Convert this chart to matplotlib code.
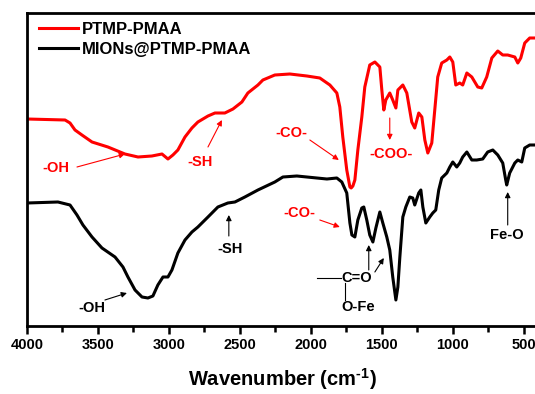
import matplotlib
matplotlib.use("Agg")
import matplotlib.pyplot as plt

plt.rcParams['font.family'] = ['Liberation Sans', 'DejaVu Sans']
plt.rcParams['font.weight'] = 'bold'
plt.rcParams['mathtext.fontset'] = 'custom'
plt.rcParams['mathtext.rm'] = 'Liberation Sans:bold'
plt.rcParams['mathtext.default'] = 'rm'

# FTIR spectra (wavenumber in cm-1, transmittance in arbitrary units)
wn_ptmp = [4000, 3732, 3697, 3662, 3613, 3542, 3430, 3310, 3218, 3120, 3049, 3007,
           2972, 2937, 2887, 2838, 2796, 2725, 2676, 2606, 2549, 2486, 2444, 2373,
           2338, 2254, 2148, 2028, 1937, 1866, 1817, 1796, 1775, 1747, 1725, 1716,
           1704, 1690, 1669, 1641, 1620, 1585, 1549, 1514, 1500, 1486, 1472, 1444,
           1423, 1401, 1387, 1352, 1324, 1289, 1268, 1240, 1218, 1197, 1176, 1148,
           1127, 1106, 1078, 1042, 1021, 1000, 979, 951, 930, 901, 866, 824, 796,
           761, 725, 683, 648, 613, 563, 542, 521, 493, 458, 423, 400]
t_ptmp = [207, 206, 203, 196, 191, 184, 179, 172, 169, 170, 172, 167,
          171, 176, 189, 198, 204, 210, 213, 213, 217, 224, 233, 241,
          246, 251, 252, 250, 248, 241, 233, 219, 189, 156, 139, 138,
          140, 146, 176, 209, 239, 261, 264, 259, 236, 216, 226, 233,
          226, 218, 236, 241, 233, 204, 198, 213, 209, 186, 173, 183,
          216, 249, 263, 266, 269, 264, 241, 243, 241, 253, 249, 239, 238,
          249, 268, 275, 271, 271, 269, 263, 268, 283, 288, 288, 288]

wn_mions = [4000, 3782, 3697, 3648, 3606, 3542, 3472, 3380, 3324, 3289, 3239, 3190,
            3148, 3113, 3078, 3042, 3007, 2979, 2937, 2887, 2838, 2796, 2725, 2655,
            2585, 2535, 2465, 2373, 2254, 2197, 2099, 1958, 1887, 1817, 1782, 1747,
            1725, 1711, 1690, 1669, 1641, 1627, 1606, 1585, 1563, 1542, 1514, 1493,
            1465, 1444, 1423, 1401, 1387, 1373, 1352, 1331, 1303, 1282, 1268, 1240,
            1225, 1211, 1190, 1162, 1141, 1120, 1099, 1078, 1042, 1021, 1000, 972,
            951, 930, 901, 866, 831, 789, 754, 718, 683, 648, 627, 620, 599, 563,
            542, 514, 493, 458, 423, 400]
t_mions = [123, 124, 121, 111, 101, 89, 78, 69, 59, 49, 36, 29,
           28, 30, 41, 49, 49, 56, 73, 86, 94, 99, 109, 119,
           123, 124, 129, 136, 144, 149, 150, 148, 147, 148, 144, 133,
           103, 91, 89, 106, 118, 119, 106, 91, 84, 98, 114, 103,
           89, 76, 49, 26, 39, 69, 109, 119, 129, 128, 121, 133,
           136, 119, 103, 109, 113, 116, 136, 148, 153, 159, 164, 159,
           163, 169, 174, 166, 166, 167, 174, 176, 171, 163, 146, 141, 153, 163,
           166, 164, 178, 181, 181, 181]

xticks = [4000, 3500, 3000, 2500, 2000, 1500, 1000, 500]

fig = plt.figure(figsize=(5.35, 3.94), dpi=100)
ax = fig.add_axes([0.0505, 0.1726, 0.955, 0.7944])

ax.plot(wn_ptmp, t_ptmp, color='#ff0000', lw=2.2, label='PTMP-PMAA')
ax.plot(wn_mions, t_mions, color='black', lw=2.2, label='MIONs@PTMP-PMAA')

ax.set_xlim(4000, 400)
ax.set_ylim(0, 313)
ax.set_xticks(xticks)
ax.set_xticklabels([str(v) for v in xticks], fontsize=10.5, fontweight='bold')
ax.set_xticks([3750, 3250, 2750, 2250, 1750, 1250, 750], minor=True)
ax.tick_params(axis='x', which='major', direction='out', length=6, width=1.8, pad=3)
ax.tick_params(axis='x', which='minor', direction='out', length=4, width=1.8)
ax.set_yticks([])
for side in ['left', 'bottom', 'top', 'right']:
    ax.spines[side].set_linewidth(2.0)

ax.set_xlabel(r'Wavenumber (cm$^{\text{-1}}$)', fontsize=14.5, fontweight='bold',
              labelpad=10)

leg = ax.legend(loc='upper left', bbox_to_anchor=(-0.005, 1.02), frameon=False,
                prop={'weight': 'bold', 'size': 12}, handlelength=2.3,
                handletextpad=0.25, labelspacing=0.3)

red = '#ff0000'
arw = dict(arrowstyle='-|>', lw=0.8, mutation_scale=8, shrinkA=0, shrinkB=0)


def note(text, xy, xytext, tpos, color):
    ax.annotate('', xy=xy, xytext=xytext, arrowprops=dict(arw, color=color))
    ax.text(tpos[0], tpos[1], text, color=color, fontsize=10.5, fontweight='bold',
            ha='center', va='center')


# labels on the PTMP-PMAA spectrum
note('-OH', (3310, 172), (3648, 159), (3796, 158), red)
note('-SH', (2627, 206), (2725, 179), (2782, 164), red)
note('-CO-', (1803, 166), (2007, 186), (2134, 193), red)
note('-COO-', (1444, 186), (1444, 208), (1437, 172), red)

# labels on the MIONs@PTMP-PMAA spectrum
note('-CO-', (1796, 99), (1937, 106), (2078, 113), red)
note('-OH', (3296, 33), (3451, 26), (3542, 18), 'black')
note('-SH', (2578, 111), (2578, 90), (2570, 77), 'black')
note('Fe-O', (613, 134), (613, 101), (620, 91), 'black')
note('C=O', (1592, 81), (1592, 56), (1676, 48), 'black')
ax.annotate('', xy=(1486, 68), xytext=(1549, 54), arrowprops=dict(arw, color='black'))
ax.plot([1958, 1790], [48, 48], color='black', lw=0.8)
ax.plot([1761, 1761], [43, 26], color='black', lw=0.8)
ax.text(1669, 19, 'O-Fe', color='black', fontsize=10.5, fontweight='bold',
        ha='center', va='center')

fig.savefig('out.png', dpi=100)
